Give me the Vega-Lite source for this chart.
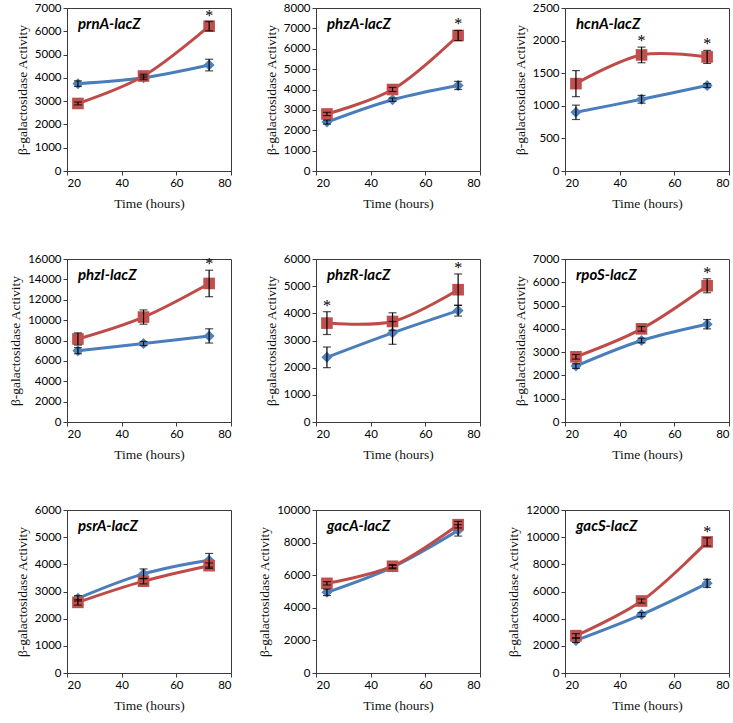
{
  "$schema": "https://vega.github.io/schema/vega-lite/v6.json",
  "background": "white",
  "padding": {"left": 8, "top": 1, "right": 5, "bottom": 5},
  "datasets": {
    "lacz": [
      {"gene": "prnA", "series": "s1", "time": 24, "value": 3750, "err": 120, "sig": false},
      {"gene": "prnA", "series": "s1", "time": 48, "value": 4000, "err": 80, "sig": false},
      {"gene": "prnA", "series": "s1", "time": 72, "value": 4550, "err": 250, "sig": false},
      {"gene": "prnA", "series": "s2", "time": 24, "value": 2900, "err": 60, "sig": false},
      {"gene": "prnA", "series": "s2", "time": 48, "value": 4080, "err": 80, "sig": false},
      {"gene": "prnA", "series": "s2", "time": 72, "value": 6220, "err": 200, "sig": true},
      {"gene": "phzA", "series": "s1", "time": 24, "value": 2400, "err": 100, "sig": false},
      {"gene": "phzA", "series": "s1", "time": 48, "value": 3500, "err": 80, "sig": false},
      {"gene": "phzA", "series": "s1", "time": 72, "value": 4200, "err": 200, "sig": false},
      {"gene": "phzA", "series": "s2", "time": 24, "value": 2800, "err": 80, "sig": false},
      {"gene": "phzA", "series": "s2", "time": 48, "value": 4000, "err": 100, "sig": false},
      {"gene": "phzA", "series": "s2", "time": 72, "value": 6650, "err": 250, "sig": true},
      {"gene": "hcnA", "series": "s1", "time": 24, "value": 900, "err": 110, "sig": false},
      {"gene": "hcnA", "series": "s1", "time": 48, "value": 1100, "err": 60, "sig": false},
      {"gene": "hcnA", "series": "s1", "time": 72, "value": 1310, "err": 30, "sig": false},
      {"gene": "hcnA", "series": "s2", "time": 24, "value": 1340, "err": 200, "sig": false},
      {"gene": "hcnA", "series": "s2", "time": 48, "value": 1780, "err": 120, "sig": true},
      {"gene": "hcnA", "series": "s2", "time": 72, "value": 1750, "err": 100, "sig": true},
      {"gene": "phzI", "series": "s1", "time": 24, "value": 7000, "err": 300, "sig": false},
      {"gene": "phzI", "series": "s1", "time": 48, "value": 7700, "err": 200, "sig": false},
      {"gene": "phzI", "series": "s1", "time": 72, "value": 8450, "err": 700, "sig": false},
      {"gene": "phzI", "series": "s2", "time": 24, "value": 8150, "err": 600, "sig": false},
      {"gene": "phzI", "series": "s2", "time": 48, "value": 10300, "err": 700, "sig": false},
      {"gene": "phzI", "series": "s2", "time": 72, "value": 13600, "err": 1300, "sig": true},
      {"gene": "phzR", "series": "s1", "time": 24, "value": 2380, "err": 380, "sig": false},
      {"gene": "phzR", "series": "s1", "time": 48, "value": 3280, "err": 420, "sig": false},
      {"gene": "phzR", "series": "s1", "time": 72, "value": 4100, "err": 200, "sig": false},
      {"gene": "phzR", "series": "s2", "time": 24, "value": 3640, "err": 420, "sig": true},
      {"gene": "phzR", "series": "s2", "time": 48, "value": 3700, "err": 320, "sig": false},
      {"gene": "phzR", "series": "s2", "time": 72, "value": 4870, "err": 580, "sig": true},
      {"gene": "rpoS", "series": "s1", "time": 24, "value": 2400, "err": 100, "sig": false},
      {"gene": "rpoS", "series": "s1", "time": 48, "value": 3500, "err": 100, "sig": false},
      {"gene": "rpoS", "series": "s1", "time": 72, "value": 4200, "err": 200, "sig": false},
      {"gene": "rpoS", "series": "s2", "time": 24, "value": 2800, "err": 100, "sig": false},
      {"gene": "rpoS", "series": "s2", "time": 48, "value": 4000, "err": 100, "sig": false},
      {"gene": "rpoS", "series": "s2", "time": 72, "value": 5850, "err": 300, "sig": true},
      {"gene": "psrA", "series": "s1", "time": 24, "value": 2750, "err": 100, "sig": false},
      {"gene": "psrA", "series": "s1", "time": 48, "value": 3650, "err": 180, "sig": false},
      {"gene": "psrA", "series": "s1", "time": 72, "value": 4150, "err": 250, "sig": false},
      {"gene": "psrA", "series": "s2", "time": 24, "value": 2600, "err": 100, "sig": false},
      {"gene": "psrA", "series": "s2", "time": 48, "value": 3380, "err": 100, "sig": false},
      {"gene": "psrA", "series": "s2", "time": 72, "value": 3950, "err": 100, "sig": false},
      {"gene": "gacA", "series": "s1", "time": 24, "value": 4950, "err": 200, "sig": false},
      {"gene": "gacA", "series": "s1", "time": 48, "value": 6500, "err": 100, "sig": false},
      {"gene": "gacA", "series": "s1", "time": 72, "value": 8750, "err": 350, "sig": false},
      {"gene": "gacA", "series": "s2", "time": 24, "value": 5500, "err": 100, "sig": false},
      {"gene": "gacA", "series": "s2", "time": 48, "value": 6550, "err": 100, "sig": false},
      {"gene": "gacA", "series": "s2", "time": 72, "value": 9100, "err": 200, "sig": false},
      {"gene": "gacS", "series": "s1", "time": 24, "value": 2400, "err": 150, "sig": false},
      {"gene": "gacS", "series": "s1", "time": 48, "value": 4300, "err": 150, "sig": false},
      {"gene": "gacS", "series": "s1", "time": 72, "value": 6600, "err": 300, "sig": false},
      {"gene": "gacS", "series": "s2", "time": 24, "value": 2750, "err": 150, "sig": false},
      {"gene": "gacS", "series": "s2", "time": 48, "value": 5300, "err": 150, "sig": false},
      {"gene": "gacS", "series": "s2", "time": 72, "value": 9650, "err": 300, "sig": true}
    ]
  },
  "data": {"name": "lacz"},
  "columns": 3,
  "spacing": {"row": 41, "column": 25},
  "concat": [
    {
      "title": {"text": "prnA-lacZ"},
      "width": 164, "height": 163,
      "transform": [{"filter": "datum.gene === 'prnA'"}],
      "encoding": {
        "x": {"field": "time", "type": "quantitative", "scale": {"domain": [20, 80], "nice": false}, "axis": {"values": [20, 40, 60, 80], "title": "Time (hours)"}},
        "y": {"field": "value", "type": "quantitative", "scale": {"domain": [0, 7000], "nice": false}, "axis": {"values": [0, 1000, 2000, 3000, 4000, 5000, 6000, 7000], "title": "β-galactosidase Activity"}}
      },
      "layer": [
        {"mark": {"type": "line", "interpolate": "catmull-rom", "strokeWidth": 3}, "encoding": {"color": {"field": "series", "type": "nominal", "scale": {"domain": ["s1", "s2"], "range": ["#4A7EBB", "#BE4B48"]}, "legend": null}}},
        {"transform": [{"filter": "datum.series === 's1'"}], "mark": {"type": "point", "shape": "diamond", "size": 120, "filled": true, "opacity": 1, "color": "#4F81BD"}},
        {"transform": [{"filter": "datum.series === 's2'"}], "mark": {"type": "point", "shape": "square", "size": 135, "filled": true, "opacity": 1, "color": "#C0504D"}},
        {"mark": {"type": "errorbar", "ticks": true, "size": 8, "thickness": 1.2, "color": "#000"}, "encoding": {"yError": {"field": "err"}}},
        {"transform": [{"filter": "datum.sig"}, {"calculate": "datum.value + datum.err", "as": "top"}], "mark": {"type": "text", "text": "*", "baseline": "alphabetic", "dy": -1, "font": "Liberation Serif", "fontSize": 16, "color": "#000"}, "encoding": {"y": {"field": "top", "type": "quantitative"}}}
      ]
    },
    {
      "title": {"text": "phzA-lacZ"},
      "width": 164, "height": 163,
      "transform": [{"filter": "datum.gene === 'phzA'"}],
      "encoding": {
        "x": {"field": "time", "type": "quantitative", "scale": {"domain": [20, 80], "nice": false}, "axis": {"values": [20, 40, 60, 80], "title": "Time (hours)"}},
        "y": {"field": "value", "type": "quantitative", "scale": {"domain": [0, 8000], "nice": false}, "axis": {"values": [0, 1000, 2000, 3000, 4000, 5000, 6000, 7000, 8000], "title": "β-galactosidase Activity"}}
      },
      "layer": [
        {"mark": {"type": "line", "interpolate": "catmull-rom", "strokeWidth": 3}, "encoding": {"color": {"field": "series", "type": "nominal", "scale": {"domain": ["s1", "s2"], "range": ["#4A7EBB", "#BE4B48"]}, "legend": null}}},
        {"transform": [{"filter": "datum.series === 's1'"}], "mark": {"type": "point", "shape": "diamond", "size": 120, "filled": true, "opacity": 1, "color": "#4F81BD"}},
        {"transform": [{"filter": "datum.series === 's2'"}], "mark": {"type": "point", "shape": "square", "size": 135, "filled": true, "opacity": 1, "color": "#C0504D"}},
        {"mark": {"type": "errorbar", "ticks": true, "size": 8, "thickness": 1.2, "color": "#000"}, "encoding": {"yError": {"field": "err"}}},
        {"transform": [{"filter": "datum.sig"}, {"calculate": "datum.value + datum.err", "as": "top"}], "mark": {"type": "text", "text": "*", "baseline": "alphabetic", "dy": -1, "font": "Liberation Serif", "fontSize": 16, "color": "#000"}, "encoding": {"y": {"field": "top", "type": "quantitative"}}}
      ]
    },
    {
      "title": {"text": "hcnA-lacZ"},
      "width": 164, "height": 163,
      "transform": [{"filter": "datum.gene === 'hcnA'"}],
      "encoding": {
        "x": {"field": "time", "type": "quantitative", "scale": {"domain": [20, 80], "nice": false}, "axis": {"values": [20, 40, 60, 80], "title": "Time (hours)"}},
        "y": {"field": "value", "type": "quantitative", "scale": {"domain": [0, 2500], "nice": false}, "axis": {"values": [0, 500, 1000, 1500, 2000, 2500], "title": "β-galactosidase Activity"}}
      },
      "layer": [
        {"mark": {"type": "line", "interpolate": "catmull-rom", "strokeWidth": 3}, "encoding": {"color": {"field": "series", "type": "nominal", "scale": {"domain": ["s1", "s2"], "range": ["#4A7EBB", "#BE4B48"]}, "legend": null}}},
        {"transform": [{"filter": "datum.series === 's1'"}], "mark": {"type": "point", "shape": "diamond", "size": 120, "filled": true, "opacity": 1, "color": "#4F81BD"}},
        {"transform": [{"filter": "datum.series === 's2'"}], "mark": {"type": "point", "shape": "square", "size": 135, "filled": true, "opacity": 1, "color": "#C0504D"}},
        {"mark": {"type": "errorbar", "ticks": true, "size": 8, "thickness": 1.2, "color": "#000"}, "encoding": {"yError": {"field": "err"}}},
        {"transform": [{"filter": "datum.sig"}, {"calculate": "datum.value + datum.err", "as": "top"}], "mark": {"type": "text", "text": "*", "baseline": "alphabetic", "dy": -1, "font": "Liberation Serif", "fontSize": 16, "color": "#000"}, "encoding": {"y": {"field": "top", "type": "quantitative"}}}
      ]
    },
    {
      "title": {"text": "phzI-lacZ"},
      "width": 164, "height": 163,
      "transform": [{"filter": "datum.gene === 'phzI'"}],
      "encoding": {
        "x": {"field": "time", "type": "quantitative", "scale": {"domain": [20, 80], "nice": false}, "axis": {"values": [20, 40, 60, 80], "title": "Time (hours)"}},
        "y": {"field": "value", "type": "quantitative", "scale": {"domain": [0, 16000], "nice": false}, "axis": {"values": [0, 2000, 4000, 6000, 8000, 10000, 12000, 14000, 16000], "title": "β-galactosidase Activity"}}
      },
      "layer": [
        {"mark": {"type": "line", "interpolate": "catmull-rom", "strokeWidth": 3}, "encoding": {"color": {"field": "series", "type": "nominal", "scale": {"domain": ["s1", "s2"], "range": ["#4A7EBB", "#BE4B48"]}, "legend": null}}},
        {"transform": [{"filter": "datum.series === 's1'"}], "mark": {"type": "point", "shape": "diamond", "size": 120, "filled": true, "opacity": 1, "color": "#4F81BD"}},
        {"transform": [{"filter": "datum.series === 's2'"}], "mark": {"type": "point", "shape": "square", "size": 135, "filled": true, "opacity": 1, "color": "#C0504D"}},
        {"mark": {"type": "errorbar", "ticks": true, "size": 8, "thickness": 1.2, "color": "#000"}, "encoding": {"yError": {"field": "err"}}},
        {"transform": [{"filter": "datum.sig"}, {"calculate": "datum.value + datum.err", "as": "top"}], "mark": {"type": "text", "text": "*", "baseline": "alphabetic", "dy": -1, "font": "Liberation Serif", "fontSize": 16, "color": "#000"}, "encoding": {"y": {"field": "top", "type": "quantitative"}}}
      ]
    },
    {
      "title": {"text": "phzR-lacZ"},
      "width": 164, "height": 163,
      "transform": [{"filter": "datum.gene === 'phzR'"}],
      "encoding": {
        "x": {"field": "time", "type": "quantitative", "scale": {"domain": [20, 80], "nice": false}, "axis": {"values": [20, 40, 60, 80], "title": "Time (hours)"}},
        "y": {"field": "value", "type": "quantitative", "scale": {"domain": [0, 6000], "nice": false}, "axis": {"values": [0, 1000, 2000, 3000, 4000, 5000, 6000], "title": "β-galactosidase Activity"}}
      },
      "layer": [
        {"mark": {"type": "line", "interpolate": "catmull-rom", "strokeWidth": 3}, "encoding": {"color": {"field": "series", "type": "nominal", "scale": {"domain": ["s1", "s2"], "range": ["#4A7EBB", "#BE4B48"]}, "legend": null}}},
        {"transform": [{"filter": "datum.series === 's1'"}], "mark": {"type": "point", "shape": "diamond", "size": 120, "filled": true, "opacity": 1, "color": "#4F81BD"}},
        {"transform": [{"filter": "datum.series === 's2'"}], "mark": {"type": "point", "shape": "square", "size": 135, "filled": true, "opacity": 1, "color": "#C0504D"}},
        {"mark": {"type": "errorbar", "ticks": true, "size": 8, "thickness": 1.2, "color": "#000"}, "encoding": {"yError": {"field": "err"}}},
        {"transform": [{"filter": "datum.sig"}, {"calculate": "datum.value + datum.err", "as": "top"}], "mark": {"type": "text", "text": "*", "baseline": "alphabetic", "dy": -1, "font": "Liberation Serif", "fontSize": 16, "color": "#000"}, "encoding": {"y": {"field": "top", "type": "quantitative"}}}
      ]
    },
    {
      "title": {"text": "rpoS-lacZ"},
      "width": 164, "height": 163,
      "transform": [{"filter": "datum.gene === 'rpoS'"}],
      "encoding": {
        "x": {"field": "time", "type": "quantitative", "scale": {"domain": [20, 80], "nice": false}, "axis": {"values": [20, 40, 60, 80], "title": "Time (hours)"}},
        "y": {"field": "value", "type": "quantitative", "scale": {"domain": [0, 7000], "nice": false}, "axis": {"values": [0, 1000, 2000, 3000, 4000, 5000, 6000, 7000], "title": "β-galactosidase Activity"}}
      },
      "layer": [
        {"mark": {"type": "line", "interpolate": "catmull-rom", "strokeWidth": 3}, "encoding": {"color": {"field": "series", "type": "nominal", "scale": {"domain": ["s1", "s2"], "range": ["#4A7EBB", "#BE4B48"]}, "legend": null}}},
        {"transform": [{"filter": "datum.series === 's1'"}], "mark": {"type": "point", "shape": "diamond", "size": 120, "filled": true, "opacity": 1, "color": "#4F81BD"}},
        {"transform": [{"filter": "datum.series === 's2'"}], "mark": {"type": "point", "shape": "square", "size": 135, "filled": true, "opacity": 1, "color": "#C0504D"}},
        {"mark": {"type": "errorbar", "ticks": true, "size": 8, "thickness": 1.2, "color": "#000"}, "encoding": {"yError": {"field": "err"}}},
        {"transform": [{"filter": "datum.sig"}, {"calculate": "datum.value + datum.err", "as": "top"}], "mark": {"type": "text", "text": "*", "baseline": "alphabetic", "dy": -1, "font": "Liberation Serif", "fontSize": 16, "color": "#000"}, "encoding": {"y": {"field": "top", "type": "quantitative"}}}
      ]
    },
    {
      "title": {"text": "psrA-lacZ"},
      "width": 164, "height": 163,
      "transform": [{"filter": "datum.gene === 'psrA'"}],
      "encoding": {
        "x": {"field": "time", "type": "quantitative", "scale": {"domain": [20, 80], "nice": false}, "axis": {"values": [20, 40, 60, 80], "title": "Time (hours)"}},
        "y": {"field": "value", "type": "quantitative", "scale": {"domain": [0, 6000], "nice": false}, "axis": {"values": [0, 1000, 2000, 3000, 4000, 5000, 6000], "title": "β-galactosidase Activity"}}
      },
      "layer": [
        {"mark": {"type": "line", "interpolate": "catmull-rom", "strokeWidth": 3}, "encoding": {"color": {"field": "series", "type": "nominal", "scale": {"domain": ["s1", "s2"], "range": ["#4A7EBB", "#BE4B48"]}, "legend": null}}},
        {"transform": [{"filter": "datum.series === 's1'"}], "mark": {"type": "point", "shape": "diamond", "size": 120, "filled": true, "opacity": 1, "color": "#4F81BD"}},
        {"transform": [{"filter": "datum.series === 's2'"}], "mark": {"type": "point", "shape": "square", "size": 135, "filled": true, "opacity": 1, "color": "#C0504D"}},
        {"mark": {"type": "errorbar", "ticks": true, "size": 8, "thickness": 1.2, "color": "#000"}, "encoding": {"yError": {"field": "err"}}},
        {"transform": [{"filter": "datum.sig"}, {"calculate": "datum.value + datum.err", "as": "top"}], "mark": {"type": "text", "text": "*", "baseline": "alphabetic", "dy": -1, "font": "Liberation Serif", "fontSize": 16, "color": "#000"}, "encoding": {"y": {"field": "top", "type": "quantitative"}}}
      ]
    },
    {
      "title": {"text": "gacA-lacZ"},
      "width": 164, "height": 163,
      "transform": [{"filter": "datum.gene === 'gacA'"}],
      "encoding": {
        "x": {"field": "time", "type": "quantitative", "scale": {"domain": [20, 80], "nice": false}, "axis": {"values": [20, 40, 60, 80], "title": "Time (hours)"}},
        "y": {"field": "value", "type": "quantitative", "scale": {"domain": [0, 10000], "nice": false}, "axis": {"values": [0, 2000, 4000, 6000, 8000, 10000], "title": "β-galactosidase Activity"}}
      },
      "layer": [
        {"mark": {"type": "line", "interpolate": "catmull-rom", "strokeWidth": 3}, "encoding": {"color": {"field": "series", "type": "nominal", "scale": {"domain": ["s1", "s2"], "range": ["#4A7EBB", "#BE4B48"]}, "legend": null}}},
        {"transform": [{"filter": "datum.series === 's1'"}], "mark": {"type": "point", "shape": "diamond", "size": 120, "filled": true, "opacity": 1, "color": "#4F81BD"}},
        {"transform": [{"filter": "datum.series === 's2'"}], "mark": {"type": "point", "shape": "square", "size": 135, "filled": true, "opacity": 1, "color": "#C0504D"}},
        {"mark": {"type": "errorbar", "ticks": true, "size": 8, "thickness": 1.2, "color": "#000"}, "encoding": {"yError": {"field": "err"}}},
        {"transform": [{"filter": "datum.sig"}, {"calculate": "datum.value + datum.err", "as": "top"}], "mark": {"type": "text", "text": "*", "baseline": "alphabetic", "dy": -1, "font": "Liberation Serif", "fontSize": 16, "color": "#000"}, "encoding": {"y": {"field": "top", "type": "quantitative"}}}
      ]
    },
    {
      "title": {"text": "gacS-lacZ"},
      "width": 164, "height": 163,
      "transform": [{"filter": "datum.gene === 'gacS'"}],
      "encoding": {
        "x": {"field": "time", "type": "quantitative", "scale": {"domain": [20, 80], "nice": false}, "axis": {"values": [20, 40, 60, 80], "title": "Time (hours)"}},
        "y": {"field": "value", "type": "quantitative", "scale": {"domain": [0, 12000], "nice": false}, "axis": {"values": [0, 2000, 4000, 6000, 8000, 10000, 12000], "title": "β-galactosidase Activity"}}
      },
      "layer": [
        {"mark": {"type": "line", "interpolate": "catmull-rom", "strokeWidth": 3}, "encoding": {"color": {"field": "series", "type": "nominal", "scale": {"domain": ["s1", "s2"], "range": ["#4A7EBB", "#BE4B48"]}, "legend": null}}},
        {"transform": [{"filter": "datum.series === 's1'"}], "mark": {"type": "point", "shape": "diamond", "size": 120, "filled": true, "opacity": 1, "color": "#4F81BD"}},
        {"transform": [{"filter": "datum.series === 's2'"}], "mark": {"type": "point", "shape": "square", "size": 135, "filled": true, "opacity": 1, "color": "#C0504D"}},
        {"mark": {"type": "errorbar", "ticks": true, "size": 8, "thickness": 1.2, "color": "#000"}, "encoding": {"yError": {"field": "err"}}},
        {"transform": [{"filter": "datum.sig"}, {"calculate": "datum.value + datum.err", "as": "top"}], "mark": {"type": "text", "text": "*", "baseline": "alphabetic", "dy": -1, "font": "Liberation Serif", "fontSize": 16, "color": "#000"}, "encoding": {"y": {"field": "top", "type": "quantitative"}}}
      ]
    }
  ],
  "resolve": {"scale": {"x": "independent", "y": "independent", "color": "independent"}},
  "config": {
    "view": {"stroke": "#3a3a3a", "strokeWidth": 1},
    "axis": {"grid": false, "format": "d", "labelFont": "Lato", "labelFontSize": 11.5, "labelColor": "#000", "titleFont": "Liberation Serif", "titleFontSize": 13.5, "titleFontWeight": "normal", "titleColor": "#111", "domainColor": "#3a3a3a", "tickColor": "#3a3a3a", "tickSize": 4, "labelPadding": 2},
    "axisX": {"titlePadding": 8},
    "axisY": {"titlePadding": 5},
    "title": {"anchor": "start", "frame": "group", "offset": -30, "dx": 11, "font": "Lato", "fontSize": 15, "fontWeight": "bold", "fontStyle": "italic", "color": "#000", "baseline": "alphabetic"}
  }
}
